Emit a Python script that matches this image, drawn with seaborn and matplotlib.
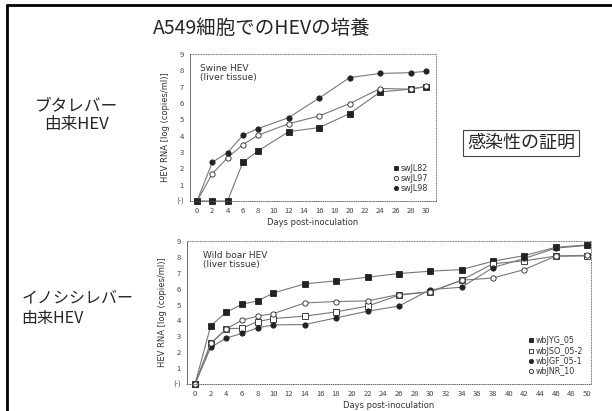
import numpy as np
import pandas as pd
import matplotlib
matplotlib.use("Agg")
import matplotlib.pyplot as plt
from matplotlib.lines import Line2D
import seaborn as sns

sns.set_style("white")
plt.rcParams['font.family'] = ['Noto Sans CJK JP', 'DejaVu Sans']

# Swine HEV (liver tissue)
swine_days = [0, 2, 4, 6, 8, 12, 16, 20, 24, 28, 30]
swJL82 = [0, 0, 0, 2.37, 3.06, 4.24, 4.49, 5.35, 6.67, 6.84, 7.0]
swJL97 = [0, 1.67, 2.65, 3.45, 4.02, 4.73, 5.2, 5.96, 6.88, 6.84, 7.02]
swJL98 = [0, 2.37, 2.96, 4.02, 4.43, 5.1, 6.3, 7.55, 7.8, 7.85, 7.93]

# Wild boar HEV (liver tissue)
boar_days = [0, 2, 4, 6, 8, 10, 14, 18, 22, 26, 30, 34, 38, 42, 46, 50]
wbJYG_05 = [0, 3.66, 4.52, 5.02, 5.23, 5.73, 6.3, 6.49, 6.72, 6.95, 7.1, 7.2, 7.73, 8.08, 8.6, 8.75]
wbJSO_05_2 = [0, 2.55, 3.47, 3.51, 3.93, 4.12, 4.27, 4.54, 4.9, 5.59, 5.8, 6.53, 7.57, 7.75, 8.05, 8.05]
wbJGF_05_1 = [0, 2.3, 2.9, 3.18, 3.54, 3.72, 3.74, 4.16, 4.58, 4.9, 5.94, 6.09, 7.32, 7.9, 8.55, 8.72]
wbJNR_10 = [0, 2.55, 3.47, 4.02, 4.27, 4.43, 5.1, 5.19, 5.23, 5.63, 5.8, 6.53, 6.67, 7.2, 8.05, 8.1]

y_ticks = list(range(10))
y_labels = ["(-)"] + [str(i) for i in range(1, 10)]

line_col = "#777777"
mark_col = "#222222"


def draw_panel(ax, days, series, xticks, xlim, note):
    handles = []
    for name, vals, marker, filled in series:
        df = pd.DataFrame({"day": days, "val": vals})
        fc = mark_col if filled else "white"
        sns.lineplot(data=df, x="day", y="val", ax=ax, color=line_col, linewidth=0.8,
                     marker=marker, markersize=3.8, markerfacecolor=fc,
                     markeredgecolor=mark_col, markeredgewidth=0.6, clip_on=False)
        handles.append(Line2D([], [], linestyle="none", marker=marker, markersize=3,
                              markerfacecolor=fc, markeredgecolor=mark_col,
                              markeredgewidth=0.6, label=name))
    ax.set_xlim(*xlim)
    ax.set_ylim(0, 9)
    ax.set_xticks(xticks)
    ax.set_yticks(y_ticks)
    ax.set_yticklabels(y_labels)
    ax.tick_params(labelsize=5.5, colors="#444444", length=1.5, width=0.5, pad=3)
    ax.set_xlabel("Days post-inoculation", fontsize=6, color="#333333", labelpad=2,
                  family="DejaVu Sans")
    ax.set_ylabel("HEV RNA [log (copies/ml)]", fontsize=6, color="#333333",
                  labelpad=4, family="DejaVu Sans")
    for s in ["top", "right"]:
        ax.spines[s].set_linestyle(":")
        ax.spines[s].set_color("#888888")
        ax.spines[s].set_linewidth(0.7)
    for s in ["left", "bottom"]:
        ax.spines[s].set_color("#555555")
        ax.spines[s].set_linewidth(0.6)
    ax.spines["bottom"].set_linestyle(":")
    ax.text(0.04, 0.93, note, transform=ax.transAxes, fontsize=6.5, va="top",
            color="#333333", linespacing=0.95, family="DejaVu Sans")
    leg = ax.legend(handles=handles, loc="lower right", frameon=False,
                    handletextpad=0.2, labelspacing=0.15, borderaxespad=0.6,
                    handlelength=0.8, prop={"family": "DejaVu Sans", "size": 5.8})
    for t in leg.get_texts():
        t.set_color("#333333")


fig = plt.figure(figsize=(6.12, 4.11), dpi=100)

ax1 = fig.add_axes([0.3105, 0.511, 0.402, 0.358])
draw_panel(ax1, swine_days,
           [("swJL82", swJL82, "s", True),
            ("swJL97", swJL97, "o", False),
            ("swJL98", swJL98, "o", True)],
           list(range(0, 31, 2)), (-0.92, 31.3), "Swine HEV\n(liver tissue)")

ax2 = fig.add_axes([0.3056, 0.0657, 0.660, 0.348])
draw_panel(ax2, boar_days,
           [("wbJYG_05", wbJYG_05, "s", True),
            ("wbJSO_05-2", wbJSO_05_2, "s", False),
            ("wbJGF_05-1", wbJGF_05_1, "o", True),
            ("wbJNR_10", wbJNR_10, "o", False)],
           list(range(0, 51, 2)), (-1.02, 50.5), "Wild boar HEV\n(liver tissue)")

# slide frame and texts
fig.add_artist(Line2D([7 / 612, 1.0], [1 - 5 / 411, 1 - 5 / 411],
                      transform=fig.transFigure, color="black", linewidth=2))
fig.add_artist(Line2D([7 / 612, 7 / 612], [0.0, 1 - 5 / 411],
                      transform=fig.transFigure, color="black", linewidth=2))

fig.text(262 / 612, 0.932, "A549細胞でのHEVの培養", fontsize=14, ha="center", va="center")
fig.text(0.125, 0.72, "ブタレバー\n由来HEV", fontsize=12, ha="center", va="center",
         linespacing=1.2)
fig.text(0.035, 0.25, "イノシシレバー\n由来HEV", fontsize=11.5, ha="left", va="center",
         linespacing=1.25)
fig.text(521 / 612, 1 - 143 / 411, "感染性の証明", fontsize=13, ha="center", va="center",
         bbox=dict(boxstyle="square,pad=0.2", facecolor="white", edgecolor="#444444",
                   linewidth=0.8))

fig.savefig("out.png", dpi=100)
